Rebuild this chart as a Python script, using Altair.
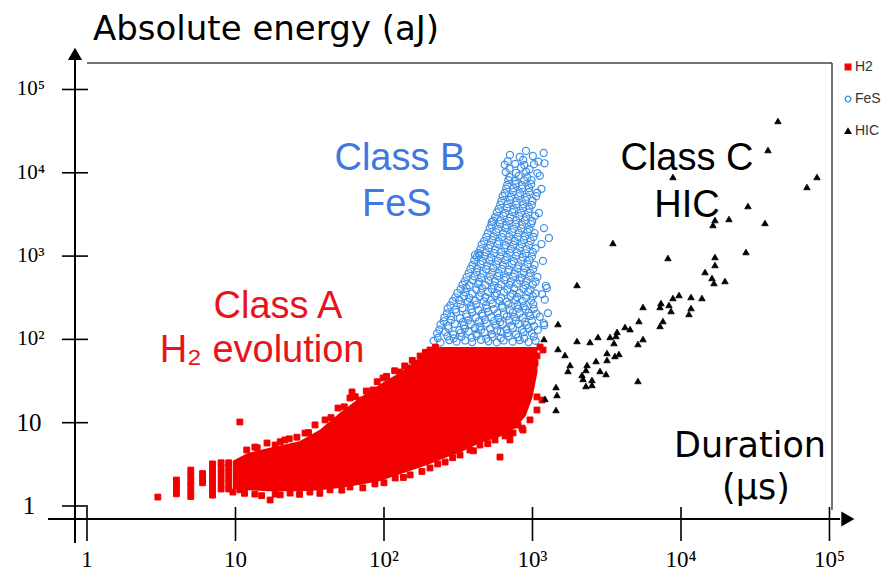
import altair as alt
import pandas as pd

# ---------------- classes / styling lists ----------------
classes = ["H2", "FeS", "HIC"]
class_strokes = ["#f20000", "#3d8fe6", "#000000"]
class_fills = ["#f20000", "transparent", "#000000"]
class_shapes = ["square", "circle", "triangle-up"]

tick_values = [1, 10, 100, 1000, 10000, 100000]
tick_labels = ["1", "10", "10²", "10³", "10⁴", "10⁵"]

x_domain = [0.830, 104000]
y_domain = [0.698, 207900]

# ---------------- Class A : H2 evolution (duration us, energy aJ) ----------------
h2_duration = [3, 4, 4, 4, 4, 5, 5, 5, 5, 5, 5, 6, 6, 6, 7, 7, 7, 7, 7, 7, 7,
               8, 8, 8, 8, 8, 8, 9, 9, 9, 9, 9, 9, 10.7,
               11.9, 13.5, 16.3, 18.5, 21.5, 25.9, 29.4, 34.3, 40.1, 49, 59, 60.9, 68.9, 84.3,
               98.5, 110, 128, 145, 162, 175, 204,
               14, 20, 23, 31, 44, 54, 64, 76, 90, 104, 118, 138, 155, 190, 222,
               9.6, 10.7, 13.5, 17.1, 18.5, 23.3, 31.7, 43.3, 59, 86.9, 119, 150, 204, 258,
               325, 379, 443, 559, 604, 653,
               11.5, 15, 20, 27, 37, 52, 72, 100, 135, 180, 230, 290, 400, 500, 700, 850,
               739, 863, 799, 962, 1072, 1159, 1072, 918, 962, 918, 1040, 1072, 1124, 1178, 705]
h2_energy = [1.28, 1.4, 1.6, 1.85, 2.05, 1.3, 1.5, 1.75, 2.0, 2.3, 2.7, 1.9, 2.15, 2.45,
             1.35, 1.55, 1.8, 2.1, 2.45, 2.8, 3.2, 1.6, 1.85, 2.15, 2.5, 2.9, 3.3,
             1.6, 1.85, 2.15, 2.5, 2.9, 3.3, 10.2,
             4.7, 5.1, 5.7, 5.4, 6.2, 6.7, 7.5, 9.4, 10.8, 15, 19.8, 23.4, 18.7, 24.7,
             34.4, 30.8, 40.6, 45.4, 52.1, 63.2, 74.6,
             5.0, 5.9, 6.4, 7.6, 11.5, 15.5, 20.5, 24, 31, 36, 42, 48, 56, 70, 80,
             1.47, 1.56, 1.39, 1.18, 1.39, 1.43, 1.47, 1.56, 1.69, 1.84, 2.17, 2.36, 2.86, 3.37,
             4.09, 4.7, 5.4, 6.2, 3.87, 6.92,
             1.42, 1.33, 1.36, 1.38, 1.42, 1.55, 1.65, 1.9, 2.2, 2.6, 3.2, 3.8, 4.6, 5.6, 7.2, 8.6,
             7.52, 8.17, 9.38, 10.8, 14.2, 18.7, 20.4, 26.8, 32.6, 42.9, 52.1, 63.2, 81, 74.6, 6.2]

# dense core of the H2 cloud: upper / lower envelope
env_duration = [9.6, 12, 17, 27, 37, 50, 69, 94, 128, 175, 204, 238, 325, 443, 604, 760, 900, 1000, 1080]
env_top = [3.5, 4.3, 5.0, 6.0, 8.2, 13, 20, 29, 40, 60, 76, 81, 81, 81, 81, 81, 81, 81, 81]
env_bottom = [1.6, 1.55, 1.5, 1.5, 1.55, 1.65, 1.8, 2.0, 2.4, 2.9, 3.2, 3.6, 4.4, 5.7, 6.8, 8.5, 12, 20, 40]

# ---------------- Class B : FeS ----------------
fes_duration = [
    216, 240, 275, 308, 352, 392, 450, 505, 575, 640, 735, 820, 940, 1050,
    228, 258, 292, 330, 372, 420, 475, 532, 610, 680, 775, 870, 990,
    240, 270, 300, 345, 385, 440, 492, 562, 630, 718, 805, 915, 1025, 1190,
    255, 283, 325, 362, 414, 462, 528, 590, 672, 752, 860, 965, 1120,
    268, 302, 338, 386, 432, 492, 550, 628, 705, 802, 900, 1020,
    290, 322, 368, 412, 470, 526, 600, 672, 768, 860, 980, 1210,
    312, 352, 393, 450, 502, 574, 642, 732, 820, 935, 1050,
    338, 376, 430, 481, 550, 615, 702, 785, 895, 1005, 1230,
    360, 405, 452, 518, 580, 662, 740, 845, 945, 1080,
    382, 425, 488, 545, 622, 695, 792, 888, 1010,
    405, 460, 512, 586, 655, 748, 838, 955, 1175,
    432, 484, 552, 616, 704, 788, 900, 1005,
    455, 520, 580, 662, 742, 846, 948, 1150,
    488, 546, 624, 698, 796, 890, 1015,
    515, 588, 656, 750, 840, 955, 1195,
    545, 610, 695, 778, 888, 995,
    575, 655, 732, 838, 938, 1105,
    606, 680, 776, 868, 990,
    630, 718, 804, 918, 1060,
    665, 745, 850, 950, 1150,
    688, 770, 878, 985,
    660, 775, 905, 1080,
    650, 765, 880, 1025, 1205,
    705, 820, 1005, 1190,
    904, 410, 440, 533, 1290, 1250, 1160, 1270, 1200,
    # in-between rows
    230, 268, 295, 333, 389, 421, 488, 538, 612, 690, 801, 880, 1022,
    236, 272, 322, 349, 410, 450, 520, 578, 668, 738, 850, 942, 1085,
    252, 284, 340, 369, 436, 478, 552, 604, 698, 772, 890, 990,
    265, 306, 358, 392, 457, 503, 582, 642, 738, 822, 944, 1060,
    280, 328, 384, 418, 487, 538, 622, 688, 794, 872, 1012,
    302, 346, 376, 440, 482, 560, 615, 712, 788, 908, 1005,
    328, 360, 418, 458, 532, 588, 678, 752, 868, 968,
    350, 398, 436, 507, 558, 648, 715, 823, 912, 1050,
    372, 421, 463, 537, 593, 686, 758, 873, 966,
    394, 448, 494, 572, 631, 728, 808, 928, 1032,
    420, 476, 526, 607, 673, 776, 860, 990,
    446, 508, 560, 648, 715, 822, 912, 1048,
    472, 538, 594, 688, 760, 874, 972,
    500, 570, 634, 730, 808, 928, 1032,
    528, 604, 668, 770, 852, 980,
    560, 638, 708, 816, 905, 1040,
    592, 674, 748, 860, 955,
    618, 704, 780, 898, 1000,
    650, 740, 822, 946, 1075,
    676, 768, 852, 980,
    700, 808, 922, 1120,
    700, 838, 955,
    680, 865, 1095,
]
fes_energy = [
    96, 92, 98, 94, 97, 93, 99, 95, 92, 97, 94, 98, 93, 96,
    118, 122, 115, 120, 124, 117, 121, 116, 123, 119, 115, 122, 118,
    150, 145, 154, 148, 152, 143, 155, 147, 151, 146, 153, 149, 144, 156,
    184, 190, 180, 188, 183, 192, 185, 181, 189, 186, 182, 191, 187,
    235, 228, 238, 230, 226, 236, 231, 240, 227, 234, 229, 233,
    288, 296, 284, 292, 286, 298, 290, 283, 295, 287, 293, 300,
    360, 368, 355, 364, 371, 358, 366, 354, 362, 370, 357,
    455, 446, 460, 450, 444, 458, 452, 463, 448, 456, 440,
    560, 572, 555, 568, 575, 558, 566, 552, 570, 562,
    700, 712, 695, 718, 702, 690, 709, 714, 698,
    890, 872, 885, 878, 895, 868, 882, 892, 875,
    1090, 1110, 1085, 1120, 1095, 1105, 1080, 1115,
    1380, 1360, 1390, 1355, 1375, 1385, 1362, 1395,
    1700, 1725, 1690, 1718, 1705, 1730, 1695,
    2150, 2120, 2160, 2130, 2145, 2110, 2170,
    2660, 2690, 2650, 2700, 2675, 2640,
    3350, 3300, 3370, 3320, 3340, 3290,
    4140, 4200, 4150, 4180, 4120,
    5250, 5180, 5220, 5160, 5230,
    6450, 6520, 6470, 6540, 6420,
    8150, 8050, 8120, 8180,
    10200, 10000, 10300, 9900,
    12500, 12800, 12400, 12700, 13000,
    16400, 15500, 15900, 17300,
    18300, 1030, 1040, 2570, 1650, 414, 350, 207, 148,
    # in-between rows
    104, 109, 103, 108, 105, 110, 102, 107, 104, 109, 106, 103, 108,
    131, 136, 129, 134, 137, 130, 135, 128, 133, 138, 131, 135, 130,
    165, 171, 162, 169, 164, 172, 166, 161, 170, 168, 163, 167,
    205, 212, 201, 210, 204, 214, 207, 200, 211, 206, 209, 203,
    256, 265, 252, 262, 257, 268, 254, 263, 259, 250, 264,
    320, 331, 316, 327, 321, 334, 318, 329, 323, 315, 330,
    400, 412, 396, 409, 402, 415, 398, 410, 403, 395,
    498, 512, 494, 508, 501, 515, 496, 510, 503, 492,
    622, 640, 617, 636, 626, 644, 620, 634, 628,
    778, 800, 771, 795, 784, 805, 775, 798, 786,
    972, 998, 965, 992, 980, 1005, 968, 990,
    1215, 1248, 1205, 1240, 1225, 1255, 1210, 1235,
    1510, 1552, 1500, 1545, 1525, 1560, 1515,
    1885, 1940, 1875, 1930, 1905, 1950, 1890,
    2360, 2425, 2345, 2415, 2380, 2440,
    2940, 3025, 2925, 3010, 2965, 3040,
    3670, 3780, 3650, 3760, 3700,
    4590, 4720, 4560, 4700, 4620,
    5720, 5890, 5700, 5860, 5780,
    7150, 7360, 7100, 7320,
    8900, 9150, 8850, 9200,
    11200, 11500, 11000,
    13800, 14300, 13600,
]

# ---------------- Class C : HIC ----------------
hic_duration = [44980, 38550, 82400, 70500, 8830, 28250, 16940, 16420, 21050, 36800,
                3480, 8170, 27400, 16940, 16940, 14520, 16170, 16680, 19780, 1994,
                9700, 8830, 11680, 13840, 7330, 7220, 5550, 8300, 8570, 11680,
                11320, 5210, 7560, 7220, 1485, 4200, 4540, 3710, 3330, 3650,
                2760, 5550, 5130, 3540, 2440, 1994, 1195, 1485, 1655, 3175,
                3590, 3820, 3175, 2680, 1790, 1734, 2330, 2290, 2850, 3126,
                2155, 2190, 2515, 2290, 2515, 5130, 1440, 1462, 1213, 1440]
hic_energy = [41900, 18790, 8910, 6760, 8910, 3990, 2710, 2360, 2790, 2500,
              1436, 949, 1120, 975, 782, 644, 546, 475, 502, 450,
              341, 314, 323, 314, 273, 245, 245, 259, 219, 238,
              202, 166, 166, 145, 153, 141, 133, 123, 107, 110,
              107, 101, 88, 90.5, 93, 95.7, 101, 76.7, 65, 68.7,
              63.2, 66.8, 56.6, 55, 49.3, 41.8, 49.3, 42.9, 41.8, 38.4,
              37.4, 33.5, 32.6, 27.6, 28.4, 31.7, 26.8, 21.5, 19.3, 14.2]

# ---------------- annotations (data coordinates) ----------------
class_text = ["Class A", "H₂ evolution", "Class B", "FeS", "Class C", "HIC"]
class_text_x = [19.3, 15.1, 128, 122, 10970, 10970]
class_text_y = [181, 53.5, 10800, 3030, 10800, 2950]
class_text_color = ["#e8141c", "#e8141c", "#3f78e0", "#3f78e0", "#000000", "#000000"]

unit_text = ["Duration", "(µs)"]
unit_text_x = [29150, 32000]
unit_text_y = [3.88, 1.21]

title_text = ["Absolute energy (aJ)"]
title_x = [1.097]
title_y = [393000]

# axis line extents (beyond the frame, like the reference)
x_axis_extent = [0.546, 117800]
y_axis_extent = [0.36, 259000]
frame_right_bottom = 0.895
frame_top_left = 1.0
x_arrow_pos = 133000
y_arrow_pos = 267000

# ---------------- data frames ----------------
h2_df = pd.DataFrame({"duration": h2_duration, "energy": h2_energy, "cls": "H2"})
fes_df = pd.DataFrame({"duration": fes_duration, "energy": fes_energy, "cls": "FeS"})
hic_df = pd.DataFrame({"duration": hic_duration, "energy": hic_energy, "cls": "HIC"})
env_df = pd.DataFrame({"duration": env_duration, "top": env_top, "bottom": env_bottom})

xs = alt.Scale(type="log", domain=x_domain, nice=False)
ys = alt.Scale(type="log", domain=y_domain, nice=False)


def X(field):
    return alt.X(field, scale=xs, axis=None)


def Y(field):
    return alt.Y(field, scale=ys, axis=None)


legend = alt.Legend(orient="none", legendX=766, legendY=-3, title=None,
                    labelFont="Liberation Sans", labelFontSize=14, labelColor="#333333",
                    symbolSize=32, symbolStrokeWidth=1.3, rowPadding=18, labelOffset=0,
                    padding=0)


def class_encoding():
    return dict(
        shape=alt.Shape("cls:N", scale=alt.Scale(domain=classes, range=class_shapes), legend=legend),
        fill=alt.Fill("cls:N", scale=alt.Scale(domain=classes, range=class_fills), legend=legend),
        stroke=alt.Stroke("cls:N", scale=alt.Scale(domain=classes, range=class_strokes), legend=legend),
    )


fes_layer = alt.Chart(fes_df).mark_point(size=50, strokeWidth=1.2, opacity=1).encode(
    x=X("duration:Q"), y=Y("energy:Q"), **class_encoding())

area_layer = alt.Chart(env_df).mark_area(color="#f20000", opacity=1).encode(
    x=X("duration:Q"), y=Y("top:Q"), y2="bottom:Q")

h2_layer = alt.Chart(h2_df).mark_point(size=34, strokeWidth=1, opacity=1).encode(
    x=X("duration:Q"), y=Y("energy:Q"), **class_encoding())

hic_layer = alt.Chart(hic_df).mark_point(size=42, strokeWidth=0.8, opacity=1).encode(
    x=X("duration:Q"), y=Y("energy:Q"), **class_encoding())

# axis lines and frame
axes_df = pd.DataFrame({
    "x": [x_axis_extent[0], x_domain[0]],
    "x2": [x_axis_extent[1], x_domain[0]],
    "y": [y_domain[0], y_axis_extent[0]],
    "y2": [y_domain[0], y_axis_extent[1]],
})
frame_df = pd.DataFrame({
    "x": [frame_top_left, x_domain[1]],
    "x2": [x_domain[1], x_domain[1]],
    "y": [y_domain[1], frame_right_bottom],
    "y2": [y_domain[1], y_domain[1]],
})
axes_layer = alt.Chart(axes_df).mark_rule(color="black", strokeWidth=2).encode(
    x=X("x:Q"), x2="x2:Q", y=Y("y:Q"), y2="y2:Q")
frame_layer = alt.Chart(frame_df).mark_rule(color="#444444", strokeWidth=1.5).encode(
    x=X("x:Q"), x2="x2:Q", y=Y("y:Q"), y2="y2:Q")

# tick marks crossing the axis lines
ytick_df = pd.DataFrame({"x": [x_domain[0]] * len(tick_values), "y": tick_values})
xtick_df = pd.DataFrame({"x": tick_values, "y": [y_domain[0]] * len(tick_values)})
ytick_layer = alt.Chart(ytick_df).mark_tick(orient="horizontal", size=26, thickness=1.6,
                                            color="black", opacity=1).encode(
    x=X("x:Q"), y=Y("y:Q"))
xtick_layer = alt.Chart(xtick_df).mark_tick(orient="vertical", size=34, thickness=1.6,
                                            color="black", opacity=1, yOffset=5).encode(
    x=X("x:Q"), y=Y("y:Q"))

# tick labels (serif, superscript powers)
ylab_df = pd.DataFrame({"x": [x_domain[0]] * len(tick_values), "y": tick_values,
                        "label": tick_labels, "big": [v <= 10 for v in tick_values]})
xlab_df = pd.DataFrame({"x": tick_values, "y": [y_domain[0]] * len(tick_values),
                        "label": tick_labels})
ylab_big_layer = alt.Chart(ylab_df).transform_filter("datum.big").mark_text(
    font="Liberation Serif", fontSize=25, color="black", align="center",
    baseline="middle", dx=-46).encode(x=X("x:Q"), y=Y("y:Q"), text="label:N")
ylab_small_layer = alt.Chart(ylab_df).transform_filter("!datum.big").mark_text(
    font="Liberation Serif", fontSize=21, color="black", align="center",
    baseline="middle", dx=-44).encode(x=X("x:Q"), y=Y("y:Q"), text="label:N")
xlab_layer = alt.Chart(xlab_df).mark_text(
    font="Liberation Serif", fontSize=23, color="black", align="center",
    baseline="top", dy=30).encode(x=X("x:Q"), y=Y("y:Q"), text="label:N")

xarrow_layer = alt.Chart(pd.DataFrame({"x": [x_arrow_pos], "y": [y_domain[0]]})).mark_point(
    shape="triangle-right", size=230, filled=True, color="black", opacity=1).encode(
    x=X("x:Q"), y=Y("y:Q"))
yarrow_layer = alt.Chart(pd.DataFrame({"x": [x_domain[0]], "y": [y_arrow_pos]})).mark_point(
    shape="triangle-up", size=200, filled=True, color="black", opacity=1).encode(
    x=X("x:Q"), y=Y("y:Q"))

class_df = pd.DataFrame({"text": class_text, "x": class_text_x, "y": class_text_y,
                         "color": class_text_color})
class_layer = alt.Chart(class_df).mark_text(align="center", baseline="alphabetic",
                                            font="Liberation Sans", fontSize=38).encode(
    x=X("x:Q"), y=Y("y:Q"), text="text:N", color=alt.Color("color:N", scale=None))

unit_df = pd.DataFrame({"text": unit_text, "x": unit_text_x, "y": unit_text_y})
unit_layer = alt.Chart(unit_df).mark_text(align="center", baseline="alphabetic",
                                          font="DejaVu Sans", fontSize=35, color="black").encode(
    x=X("x:Q"), y=Y("y:Q"), text="text:N")

title_df = pd.DataFrame({"text": title_text, "x": title_x, "y": title_y})
title_layer = alt.Chart(title_df).mark_text(align="left", baseline="alphabetic",
                                            font="DejaVu Sans", fontSize=34, color="black").encode(
    x=X("x:Q"), y=Y("y:Q"), text="text:N")

chart = alt.layer(
    fes_layer, frame_layer, area_layer, h2_layer, hic_layer,
    axes_layer, ytick_layer, xtick_layer, xarrow_layer, yarrow_layer,
    ylab_big_layer, ylab_small_layer, xlab_layer,
    class_layer, unit_layer, title_layer,
).properties(
    width=757, height=456,
    autosize=alt.AutoSizeParams(type="none"),
    padding={"left": 67, "top": 55, "right": 56, "bottom": 53},
).configure_view(stroke=None)

chart.save("out.html", embed_options={"renderer": "svg", "actions": False})
